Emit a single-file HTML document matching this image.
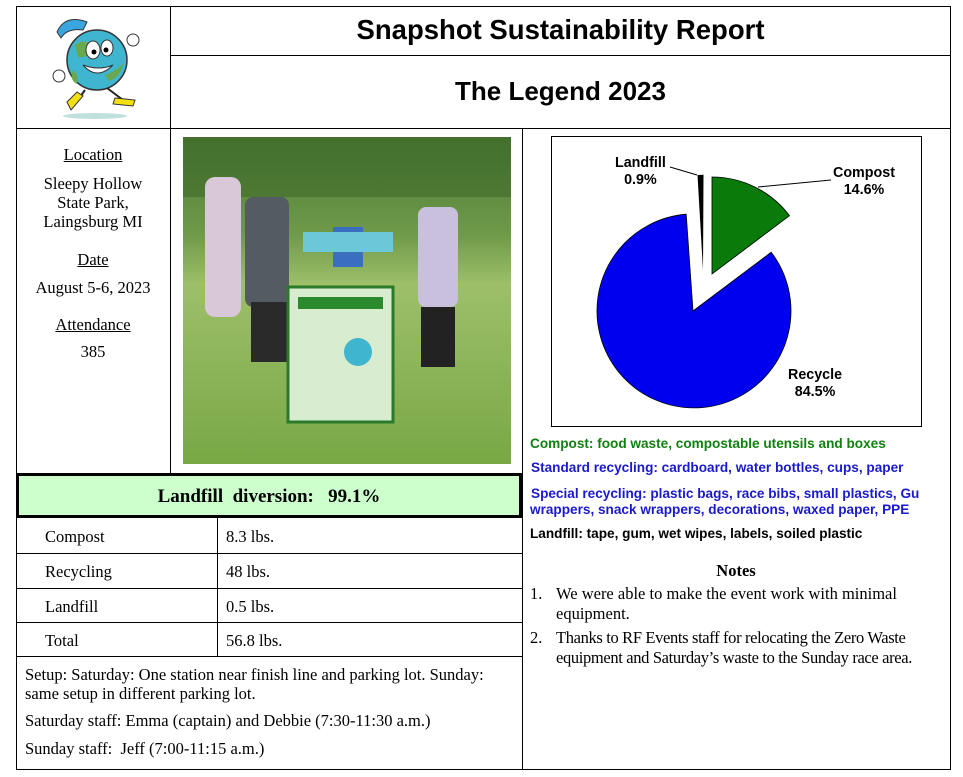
<!DOCTYPE html>
<html><head><meta charset="utf-8"><style>
body{margin:0;width:963px;height:777px;background:#fff;position:relative;overflow:hidden;font-family:"Liberation Serif",serif;color:#000}
.a{position:absolute}
.h{position:absolute;background:#000;height:1px}
.v{position:absolute;background:#000;width:1px}
.t{position:absolute;font-size:16.5px;white-space:nowrap;line-height:19px}
.s{font-family:"Liberation Sans",sans-serif;font-weight:bold;font-size:13.6px;position:absolute;white-space:nowrap;line-height:16px}
.p{font-family:"Liberation Sans",sans-serif;font-weight:bold;font-size:14.3px;position:absolute;white-space:nowrap;line-height:17px;text-align:center}
</style></head><body>
<div class="h" style="left:16px;top:6px;width:935px"></div>
<div class="h" style="left:170px;top:55px;width:781px"></div>
<div class="h" style="left:16px;top:128px;width:935px"></div>
<div class="h" style="left:16px;top:769px;width:935px"></div>
<div class="v" style="left:16px;top:6px;height:764px"></div>
<div class="v" style="left:950px;top:6px;height:764px"></div>
<div class="v" style="left:170px;top:6px;height:467px"></div>
<div class="v" style="left:522px;top:128px;height:642px"></div>
<div class="h" style="left:16px;top:553px;width:506px"></div>
<div class="h" style="left:16px;top:588px;width:506px"></div>
<div class="h" style="left:16px;top:622px;width:506px"></div>
<div class="h" style="left:16px;top:656px;width:506px"></div>
<div class="v" style="left:217px;top:517px;height:139px"></div>
<div class="a" style="left:16px;top:473px;width:500px;height:39px;border:3px solid #000;background:#ccffcc;text-align:center;line-height:41px;font-size:19px;font-weight:bold">Landfill&nbsp; diversion:&nbsp;&nbsp; 99.1%</div>
<div class="a" style="left:170px;top:14px;width:781px;text-align:center;font-family:'Liberation Sans',sans-serif;font-weight:bold;font-size:27.5px;line-height:32px">Snapshot Sustainability Report</div>
<div class="a" style="left:170px;top:75px;width:781px;text-align:center;font-family:'Liberation Sans',sans-serif;font-weight:bold;font-size:26px;line-height:32px">The Legend 2023</div>
<svg class="a" style="left:35px;top:10px" width="120" height="110" viewBox="0 0 120 110">
<ellipse cx="60" cy="106" rx="32" ry="3" fill="#bfe0dc"/>
<circle cx="62" cy="50" r="30" fill="#3fb5d0" stroke="#333" stroke-width="1.5"/>
<path d="M40 35 q10 -8 18 2 q-5 12 -15 10 z M70 65 q12 -4 18 -12 q-2 14 -14 18z M38 60 q6 4 4 14 q-8 -4 -4 -14z" fill="#6aa84f"/>
<path d="M22 22 q8 -18 30 -10 l-4 8 q-16 -2 -22 8z" fill="#3aa6e0" stroke="#333"/>
<ellipse cx="58" cy="40" rx="7" ry="9" fill="#fff" stroke="#333"/><ellipse cx="72" cy="38" rx="6" ry="8" fill="#fff" stroke="#333"/>
<circle cx="59" cy="42" r="2.5" fill="#000"/><circle cx="71" cy="40" r="2.5" fill="#000"/>
<path d="M48 55 q14 16 30 0 q-14 6 -30 0z" fill="#fff" stroke="#333"/>
<path d="M50 80 l-10 14 M72 78 l16 12" stroke="#222" stroke-width="2" fill="none"/>
<path d="M32 92 l10 -10 l6 4 l-12 14z" fill="#f4e010" stroke="#333"/>
<path d="M80 88 l20 2 l-2 6 l-20 -2z" fill="#f4e010" stroke="#333"/>
<circle cx="24" cy="66" r="6" fill="#fff" stroke="#333"/><circle cx="98" cy="30" r="6" fill="#fff" stroke="#333"/>
</svg>
<div class="a" style="left:16px;width:154px;text-align:center;font-size:16.5px;line-height:19px">
<div class="a" style="top:145px;width:154px"><u>Location</u></div>
<div class="a" style="top:174px;width:154px">Sleepy Hollow<br>State Park,<br>Laingsburg MI</div>
<div class="a" style="top:250px;width:154px"><u>Date</u></div>
<div class="a" style="top:278px;width:154px">August 5-6, 2023</div>
<div class="a" style="top:315px;width:154px"><u>Attendance</u></div>
<div class="a" style="top:342px;width:154px">385</div>
</div>
<svg class="a" style="left:183px;top:137px" width="328" height="327">
<defs><linearGradient id="g" x1="0" y1="0" x2="0" y2="1"><stop offset="0" stop-color="#4d7a35"/><stop offset="0.3" stop-color="#6f9a4a"/><stop offset="0.45" stop-color="#9dbf6a"/><stop offset="1" stop-color="#78a845"/></linearGradient></defs>
<rect width="328" height="327" fill="url(#g)"/>
<rect x="0" y="0" width="328" height="60" fill="#3f6b2c" opacity="0.6"/>
<rect x="22" y="40" width="36" height="140" fill="#d9c8d8" rx="10"/>
<rect x="62" y="60" width="44" height="110" fill="#555b62" rx="8"/>
<rect x="68" y="165" width="36" height="60" fill="#2a2a2a"/>
<rect x="235" y="70" width="40" height="100" fill="#c8c0dc" rx="8"/>
<rect x="238" y="170" width="34" height="60" fill="#222"/>
<rect x="150" y="90" width="30" height="40" fill="#3a6fc0"/>
<rect x="105" y="150" width="105" height="135" fill="#d8ecd0" stroke="#2b7a2b" stroke-width="3"/>
<rect x="115" y="160" width="85" height="12" fill="#2b8a2b"/>
<circle cx="175" cy="215" r="14" fill="#3fb5d0"/>
<rect x="120" y="95" width="90" height="20" fill="#6cc8d8"/>
</svg>
<div class="t" style="left:45px;top:527px">Compost</div><div class="t" style="left:226px;top:527px">8.3 lbs.</div>
<div class="t" style="left:45px;top:562px">Recycling</div><div class="t" style="left:226px;top:562px">48 lbs.</div>
<div class="t" style="left:45px;top:597px">Landfill</div><div class="t" style="left:226px;top:597px">0.5 lbs.</div>
<div class="t" style="left:45px;top:631px">Total</div><div class="t" style="left:226px;top:631px">56.8 lbs.</div>
<div class="a" style="left:25px;top:665px;width:495px;font-size:16.5px;line-height:19px">Setup: Saturday: One station near finish line and parking lot. Sunday:<br>same setup in different parking lot.</div>
<div class="t" style="left:25px;top:711px">Saturday staff: Emma (captain) and Debbie (7:30-11:30 a.m.)</div>
<div class="t" style="left:25px;top:739px">Sunday staff:&nbsp; Jeff (7:00-11:15 a.m.)</div>
<svg class="a" style="left:551px;top:136px" width="372" height="291" viewBox="551 136 372 291">
<rect x="551.5" y="136.5" width="370" height="290" fill="#fff" stroke="#000"/>
<path d="M693 311 L771.2 252.2 A97 97 0 1 1 686.2 214.2 Z" fill="#0000ee" stroke="#000" stroke-width="0.8"/>
<path d="M712 274 L712 177 A97 97 0 0 1 789.5 215.7 Z" fill="#0a7a0a" stroke="#000" stroke-width="0.8"/>
<path d="M703 270 L697.5 175 L703.5 174.7 Z" fill="#000"/>
<path d="M670 167 L697 175" stroke="#000" stroke-width="1"/>
<path d="M758 187 L831 180" stroke="#000" stroke-width="1"/>
</svg>
<div class="p" style="left:615px;top:155px">Landfill<br>0.9%</div>
<div class="p" style="left:833px;top:165px">Compost<br>14.6%</div>
<div class="p" style="left:788px;top:367px">Recycle<br>84.5%</div>
<div class="s" style="left:530px;top:436px;color:#118011">Compost: food waste, compostable utensils and boxes</div>
<div class="s" style="left:531px;top:460px;color:#1a1acc">Standard recycling: cardboard, water bottles, cups, paper</div>
<div class="s" style="left:531px;top:486px;color:#1a1acc">Special recycling: plastic bags, race bibs, small plastics, Gu</div>
<div class="s" style="left:530px;top:502px;color:#1a1acc">wrappers, snack wrappers, decorations, waxed paper, PPE</div>
<div class="s" style="left:530px;top:526px">Landfill: tape, gum, wet wipes, labels, soiled plastic</div>
<div class="a" style="left:522px;top:561px;width:428px;text-align:center;font-weight:bold;font-size:16.5px;line-height:19px">Notes</div>
<div class="t" style="left:530px;top:584px">1.</div>
<div class="a" style="left:556px;top:584px;font-size:16.5px;line-height:20px;white-space:nowrap">We were able to make the event work with minimal<br>equipment.</div>
<div class="t" style="left:530px;top:628px">2.</div>
<div class="a" style="left:556px;top:628px;font-size:16.5px;line-height:20px;white-space:nowrap;letter-spacing:-0.35px">Thanks to RF Events staff for relocating the Zero Waste<br>equipment and Saturday’s waste to the Sunday race area.</div>
</body></html>
